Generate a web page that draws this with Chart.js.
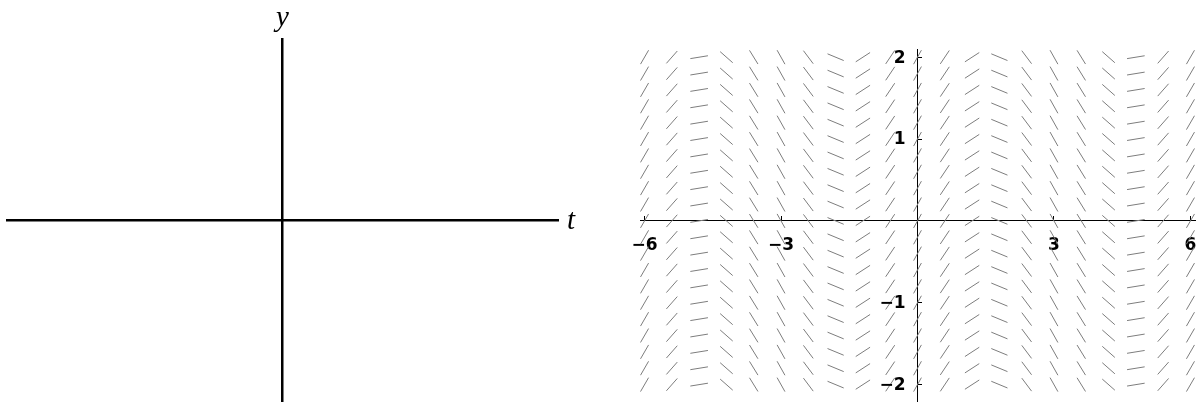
<!DOCTYPE html>
<html>
<head>
<meta charset="utf-8">
<script src="https://cdn.jsdelivr.net/npm/chart.js@4.4.1/dist/chart.umd.min.js"></script>
<style>
  body { margin: 0; background: #fff; }
  #left { position: absolute; left: 0; top: 0; }
  #right { position: absolute; left: 600px; top: 0; }
</style>
</head>
<body>
<canvas id="left" width="600" height="402"></canvas>
<canvas id="right" width="598" height="402"></canvas>
<script>
// slope field grid, slope read per column (depends only on t)
var tValues = [-6, -5.4, -4.8, -4.2, -3.6, -3, -2.4, -1.8, -1.2, -0.6, 0, 0.6, 1.2, 1.8, 2.4, 3, 3.6, 4.2, 4.8, 5.4, 6];
var yValues = [-2, -1.8, -1.6, -1.4, -1.2, -1, -0.8, -0.6, -0.4, -0.2, 0, 0.2, 0.4, 0.6, 0.8, 1, 1.2, 1.4, 1.6, 1.8, 2];
var slopes = [0.96, 0.63, 0.09, -0.49, -0.9, -0.99, -0.74, -0.23, 0.36, 0.83, 1, 0.83, 0.36, -0.23, -0.74, -0.99, -0.9, -0.49, 0.09, 0.63, 0.96];
var tTicks = [-6, -3, 3, 6];
var yTicks = [-2, -1, 1, 2];

var segColor = '#7d7d7d';
var tickFont = { family: 'DejaVu Sans', size: 17, weight: 'bold' };

function fmt(v) {
    return v < 0 ? '\u2212' + Math.abs(v) : String(v);
}

// left panel: bare t/y axes
var axisLabels = {
    id: 'axisLabels',
    afterDraw: function (chart) {
        var c = chart.ctx;
        var x0 = chart.scales.x.getPixelForValue(0);
        var y0 = chart.scales.y.getPixelForValue(0);
        c.save();
        c.fillStyle = '#000';
        c.font = 'italic 29px "Liberation Serif"';
        c.textAlign = 'center';
        c.textBaseline = 'alphabetic';
        c.fillText('y', x0, 26);
        c.textAlign = 'left';
        c.textBaseline = 'middle';
        c.fillText('t', chart.chartArea.right + 9, y0 + 1);
        c.restore();
    }
};

// y tick labels sit a little left of the axis line
var yTickLabels = {
    id: 'yTickLabels',
    afterDraw: function (chart) {
        var c = chart.ctx;
        var ys = chart.scales.y;
        var x0 = chart.scales.x.getPixelForValue(0);
        c.save();
        c.fillStyle = '#000';
        c.font = 'bold 17px "DejaVu Sans"';
        c.textAlign = 'right';
        c.textBaseline = 'middle';
        ys.ticks.forEach(function (t) {
            c.fillText(fmt(t.value), x0 - 12, ys.getPixelForValue(t.value) + 1);
        });
        c.restore();
    }
};

function zeroSize(axis) {
    if (axis.isHorizontal()) axis.height = 0; else axis.width = 0;
    axis.paddingLeft = axis.paddingRight = axis.paddingTop = axis.paddingBottom = 0;
}

new Chart('left', {
    type: 'scatter',
    data: { datasets: [] },
    options: {
        responsive: false,
        animation: false,
        layout: { padding: { left: 7, right: 42, top: 39, bottom: 0 } },
        plugins: { legend: { display: false }, tooltip: { enabled: false } },
        scales: {
            x: {
                type: 'linear', min: -1, max: 1, position: { y: 0 },
                grid: { display: false }, ticks: { display: false },
                border: { display: true, color: '#000', width: 2.5 },
                afterFit: zeroSize
            },
            y: {
                type: 'linear', min: -1, max: 1, position: { x: 0 },
                grid: { display: false }, ticks: { display: false },
                border: { display: true, color: '#000', width: 2.5 },
                afterFit: zeroSize
            }
        }
    },
    plugins: [axisLabels]
});

// right panel: direction field
var points = [];
for (var i = 0; i < tValues.length; i++) {
    for (var j = 0; j < yValues.length; j++) {
        points.push({ x: tValues[i], y: yValues[j], s: slopes[i] });
    }
}

function pxPerUnit(chart) {
    var xs = chart.scales.x, ys = chart.scales.y;
    return {
        kx: xs.getPixelForValue(1) - xs.getPixelForValue(0),
        ky: ys.getPixelForValue(0) - ys.getPixelForValue(1)
    };
}

new Chart('right', {
    type: 'scatter',
    data: {
        datasets: [{
            data: points,
            pointStyle: 'line',
            borderColor: segColor,
            backgroundColor: segColor,
            pointBorderWidth: 1,
            rotation: function (ctx) {
                if (!ctx.raw) return 0;
                var k = pxPerUnit(ctx.chart);
                return -Math.atan2(ctx.raw.s * k.ky, k.kx) * 180 / Math.PI;
            },
            radius: function (ctx) {
                if (!ctx.raw) return 8;
                var k = pxPerUnit(ctx.chart);
                var s = ctx.raw.s;
                var len = 0.394 * Math.hypot(k.kx, k.ky * s) / Math.sqrt(1 + 4.3 * s * s);
                return len / 2;
            }
        }]
    },
    options: {
        responsive: false,
        animation: false,
        layout: { padding: { left: 40, right: 3, top: 49, bottom: 1 } },
        plugins: { legend: { display: false }, tooltip: { enabled: false } },
        scales: {
            x: {
                type: 'linear', min: -6.1, max: 6.1, position: { y: 0 }, z: 1,
                afterBuildTicks: function (axis) {
                    axis.ticks = tTicks.map(function (v) { return { value: v }; });
                },
                ticks: {
                    color: '#000', font: tickFont, padding: 19, maxRotation: 0, autoSkip: false,
                    callback: fmt
                },
                grid: { display: true, drawOnChartArea: false, drawTicks: true, tickLength: -5, color: '#000' },
                border: { display: true, color: '#000', width: 1 },
                afterFit: zeroSize
            },
            y: {
                type: 'linear', min: -2.2, max: 2.1, position: { x: 0 }, z: 1,
                afterBuildTicks: function (axis) {
                    axis.ticks = yTicks.map(function (v) { return { value: v }; });
                },
                ticks: { display: false },
                grid: { display: true, drawOnChartArea: false, drawTicks: true, tickLength: -5, color: '#000' },
                border: { display: true, color: '#000', width: 1 },
                afterFit: zeroSize
            }
        }
    },
    plugins: [yTickLabels]
});
</script>
</body>
</html>
